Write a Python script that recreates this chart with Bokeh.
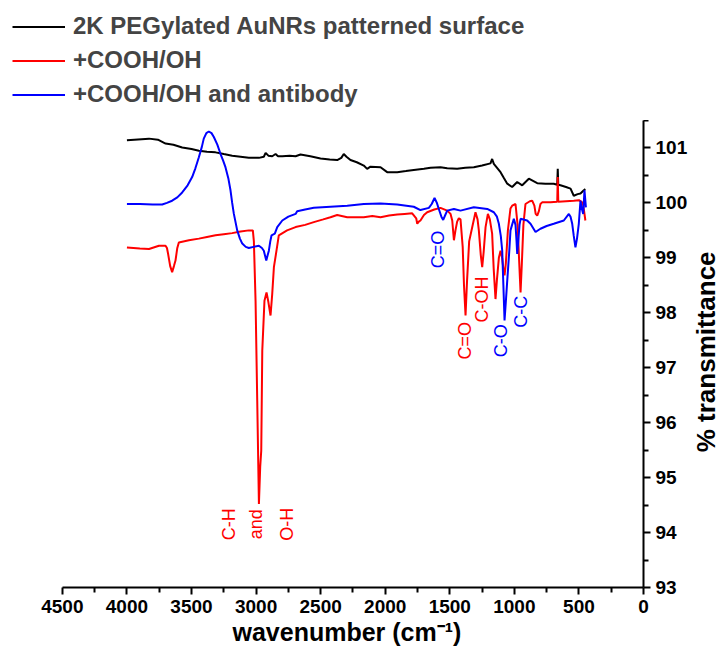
import numpy as np
from bokeh.plotting import figure
from bokeh.layouts import column, row
from bokeh.models import Range1d, FixedTicker, Legend, LegendItem, Label, Title
from bokeh.embed import file_html
from bokeh.resources import INLINE

# FTIR spectra: wavenumber (cm^-1) and % transmittance
peg_wn = [4000, 3829, 3760, 3701, 3640, 3572, 3500, 3443, 3380, 3314, 3250, 3185, 3120,
          3056, 2978, 2940, 2926, 2905, 2875, 2849, 2830, 2797, 2740, 2694, 2656, 2580,
          2501, 2430, 2372, 2340, 2321, 2300, 2269, 2220, 2166, 2140, 2114, 2036, 1985,
          1907, 1840, 1779, 1700, 1649, 1572, 1520, 1443, 1380, 1314, 1250, 1185, 1172,
          1159, 1107, 1080, 1055, 1017, 978, 939, 888, 823, 760, 695, 668, 664, 660, 643,
          600, 565, 540, 510, 488, 462, 450]
peg_t = [101.14, 101.17, 101.15, 101.08, 101.06, 101.01, 100.98, 100.95, 100.93, 100.92,
         100.89, 100.86, 100.84, 100.82, 100.82, 100.84, 100.91, 100.86, 100.85, 100.89,
         100.85, 100.85, 100.86, 100.85, 100.88, 100.85, 100.81, 100.79, 100.78, 100.82,
         100.89, 100.84, 100.78, 100.74, 100.68, 100.62, 100.66, 100.65, 100.56, 100.56,
         100.58, 100.60, 100.62, 100.64, 100.65, 100.63, 100.62, 100.64, 100.65, 100.68,
         100.72, 100.80, 100.71, 100.56, 100.45, 100.35, 100.29, 100.38, 100.32, 100.44,
         100.36, 100.35, 100.35, 100.33, 100.62, 100.33, 100.32, 100.29, 100.26, 100.13,
         100.16, 100.17, 100.23, 100.25]

cooh_wn = [4000, 3900, 3829, 3752, 3701, 3690, 3681, 3665, 3650, 3636, 3624, 3610, 3598,
           3520, 3443, 3380, 3314, 3250, 3185, 3120, 3056, 3025, 3017, 3004, 2991, 2978,
           2968, 2960, 2952, 2935, 2919, 2905, 2888, 2875, 2862, 2842, 2824, 2760, 2694,
           2620, 2553, 2480, 2424, 2372, 2294, 2166, 2100, 2036, 1970, 1907, 1850, 1791,
           1760, 1752, 1740, 1727, 1700, 1675, 1620, 1572, 1520, 1494, 1481, 1468, 1456,
           1443, 1430, 1417, 1400, 1390, 1378, 1366, 1350, 1326, 1301, 1285, 1275, 1260,
           1249, 1238, 1223, 1205, 1190, 1172, 1160, 1146, 1135, 1120, 1107, 1095, 1085,
           1076, 1066, 1050, 1030, 1017, 991, 975, 962, 952, 942, 930, 914, 880, 862, 845,
           835, 823, 810, 798, 785, 720, 668, 664, 660, 600, 540, 500, 470, 460, 450]
cooh_t = [99.19, 99.17, 99.16, 99.22, 99.22, 99.18, 99.07, 98.85, 98.74, 98.85, 98.95,
          99.18, 99.28, 99.32, 99.35, 99.38, 99.41, 99.43, 99.45, 99.48, 99.50, 99.50,
          99.30, 98.22, 96.40, 94.52, 95.20, 95.49, 97.31, 98.22, 98.37, 98.20, 97.95,
          98.34, 98.83, 99.13, 99.41, 99.50, 99.56, 99.60, 99.65, 99.70, 99.74, 99.78,
          99.74, 99.74, 99.76, 99.74, 99.77, 99.79, 99.80, 99.81, 99.72, 99.62, 99.66,
          99.68, 99.78, 99.83, 99.88, 99.91, 99.86, 99.80, 99.68, 99.32, 99.50, 99.66,
          99.72, 99.70, 99.20, 98.50, 97.95, 98.60, 99.30, 99.56, 99.83, 99.70, 99.50,
          99.05, 98.83, 99.10, 99.56, 99.80, 99.70, 99.44, 98.80, 98.25, 98.60, 99.00,
          99.13, 99.00, 98.80, 98.68, 98.90, 99.50, 99.90, 99.95, 99.98, 99.60, 98.90,
          98.37, 98.90, 99.60, 99.98, 100.03, 100.04, 99.95, 99.80, 99.77, 99.85, 99.98,
          100.01, 100.01, 100.02, 100.47, 100.02, 100.03, 100.04, 100.05, 100.00, 99.85,
          99.68]

ab_wn = [4000, 3900, 3800, 3727, 3690, 3650, 3610, 3572, 3530, 3495, 3470, 3443, 3420,
         3405, 3385, 3366, 3345, 3327, 3300, 3275, 3255, 3237, 3215, 3198, 3185, 3172,
         3146, 3125, 3107, 3080, 3056, 3020, 2978, 2955, 2940, 2921, 2910, 2901, 2890,
         2880, 2855, 2836, 2797, 2750, 2694, 2682, 2620, 2553, 2424, 2294, 2166, 2036,
         1907, 1779, 1727, 1662, 1640, 1618, 1600, 1585, 1565, 1551, 1535, 1520, 1468,
         1417, 1314, 1210, 1159, 1135, 1120, 1105, 1094, 1085, 1076, 1066, 1055, 1040,
         1030, 1004, 991, 983, 978, 970, 960, 952, 901, 875, 836, 798, 750, 695, 617,
         578, 565, 552, 540, 527, 515, 501, 488, 478, 467, 457, 446]
ab_t = [99.98, 99.98, 99.97, 99.97, 100.00, 100.04, 100.10, 100.19, 100.32, 100.47,
        100.63, 100.83, 101.02, 101.17, 101.27, 101.30, 101.27, 101.20, 101.06, 100.89,
        100.77, 100.65, 100.45, 100.23, 100.00, 99.80, 99.50, 99.35, 99.26, 99.20, 99.18,
        99.20, 99.22, 99.18, 99.13, 98.95, 99.05, 99.13, 99.30, 99.41, 99.44, 99.56,
        99.68, 99.75, 99.80, 99.85, 99.88, 99.91, 99.93, 99.95, 99.98, 99.99, 99.97,
        99.93, 99.87, 99.91, 99.98, 100.09, 100.00, 99.89, 99.75, 99.69, 99.78, 99.86,
        99.89, 99.86, 99.92, 99.89, 99.83, 99.75, 99.62, 99.40, 99.13, 98.50, 97.86,
        98.20, 98.59, 99.10, 99.50, 99.71, 99.60, 99.30, 99.07, 99.30, 99.60, 99.71,
        99.68, 99.62, 99.47, 99.53, 99.58, 99.62, 99.68, 99.80, 99.75, 99.62, 99.40,
        99.19, 99.35, 99.62, 100.04, 99.90, 99.80, 100.23, 99.92]

series_names = ["2K PEGylated AuNRs patterned surface", "+COOH/OH", "+COOH/OH and antibody"]
series_colors = ["#000000", "#ff0000", "#0000ff"]

x_ticks = [0, 500, 1000, 1500, 2000, 2500, 3000, 3500, 4000, 4500]
x_minor = [250, 750, 1250, 1750, 2250, 2750, 3250, 3750, 4250]
y_ticks = [93, 94, 95, 96, 97, 98, 99, 100, 101]
y_minor = [93.5, 94.5, 95.5, 96.5, 97.5, 98.5, 99.5, 100.5, 101.5]

x_title = "wavenumber (cm⁻¹)"
y_title = "% transmittance"

# band assignments: text, wavenumber, transmittance, colour index
band_text = ["C-H", "and", "O-H", "C=O", "C=O", "C-OH", "C-O", "C-C"]
band_wn = [3213, 2997, 2757, 1595, 1386, 1247, 1107, 952]
band_t = [94.15, 94.15, 94.15, 99.15, 97.49, 98.24, 97.49, 98.02]
band_color = [1, 1, 1, 2, 1, 1, 2, 2]

FONT = "Liberation Sans"


def bare(fig):
    fig.axis.visible = False
    fig.grid.visible = False
    fig.outline_line_color = None


# --- key strip above the spectra ---
key = figure(width=720, height=120, x_range=Range1d(0, 1), y_range=Range1d(0, 1),
             output_backend="svg", toolbar_location=None, min_border=0)
bare(key)
key_items = []
for name, c in zip(series_names, series_colors):
    # single off-range point: only the legend swatch is seen
    kr = key.line(x=[0], y=[-1], line_color=c, line_width=2)
    key_items.append(LegendItem(label=name, renderers=[kr]))
legend = Legend(items=key_items, location="top_left", margin=12, padding=0, spacing=6,
                glyph_width=53, glyph_height=25, label_height=25, label_standoff=8,
                label_text_font=FONT, label_text_font_style="bold",
                label_text_font_size="24px", border_line_color=None,
                background_fill_alpha=0)
key.add_layout(legend)

# --- spectra ---
p = figure(frame_width=643, frame_height=467,
           x_range=Range1d(4979, 0), y_range=Range1d(93, 101.5),
           y_axis_location="right", output_backend="svg", toolbar_location=None,
           min_border_left=0, min_border_top=0, min_border_right=47, min_border_bottom=78)
p.grid.visible = False
p.outline_line_color = None

for wn, t, c in zip([peg_wn, cooh_wn, ab_wn], [peg_t, cooh_t, ab_t], series_colors):
    p.line(wn, t, line_color=c, line_width=2)

for ax in (p.xaxis[0], p.yaxis[0]):
    ax.axis_line_width = 2
    ax.major_tick_line_width = 2
    ax.minor_tick_line_width = 2
    ax.major_tick_in = 0
    ax.minor_tick_in = 0
    ax.major_tick_out = 7
    ax.minor_tick_out = 5
    ax.major_label_text_font = FONT
    ax.major_label_text_font_style = "bold"
    ax.major_label_text_font_size = "19px"
    ax.major_label_text_color = "black"
    ax.major_label_standoff = 5

xa = p.xaxis[0]
xa.bounds = (0, 4500)
xa.ticker = FixedTicker(ticks=x_ticks, minor_ticks=x_minor)

ya = p.yaxis[0]
ya.ticker = FixedTicker(ticks=y_ticks, minor_ticks=y_minor)

# x title below the tick labels
p.add_layout(Title(text=x_title, align="left", offset=232, standoff=0,
                   text_font=FONT, text_font_style="bold", text_font_size="25px",
                   text_color="black"), "below")

for txt, wn, t, ci in zip(band_text, band_wn, band_t, band_color):
    p.add_layout(Label(x=wn, y=t, text=txt, angle=np.pi / 2, text_align="center",
                       text_baseline="middle", text_color=series_colors[ci],
                       text_font=FONT, text_font_size="18px"))

# --- y title strip to the right of the tick labels ---
side = figure(width=30, height=545, x_range=Range1d(0, 30), y_range=Range1d(0, 545),
              output_backend="svg", toolbar_location=None, min_border=0)
bare(side)
side.add_layout(Label(x=15, y=275, text=y_title, angle=np.pi / 2, text_align="center",
                      text_baseline="middle", text_font=FONT, text_font_style="bold",
                      text_font_size="26px", text_color="black"))

layout = column(key, row(p, side, spacing=0), spacing=0)
open("out.html", "w").write(file_html(layout, INLINE))
